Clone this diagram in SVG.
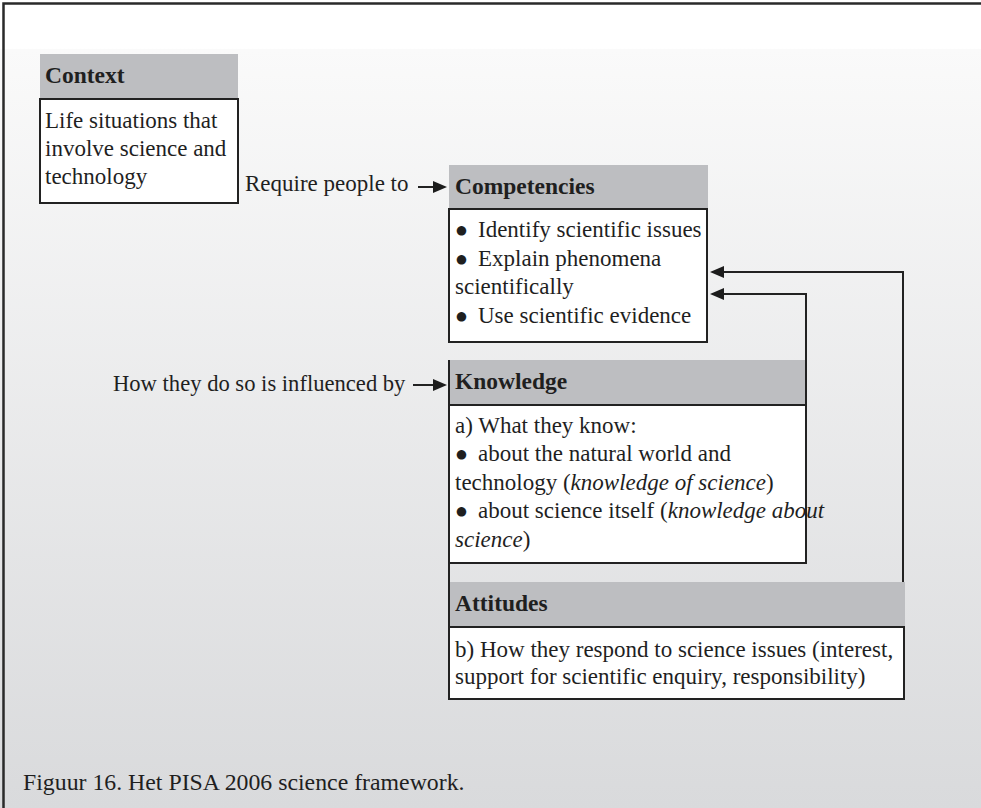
<svg xmlns="http://www.w3.org/2000/svg" width="981" height="808" viewBox="0 0 981 808">
  <style>
    .t { font-family: "Liberation Serif", "Times New Roman", serif; font-size: 23px; fill: #1f1f1f; }
    .b { font-weight: bold; font-size: 23.5px; }
    .i { font-style: italic; }
    .dot { font-family: "DejaVu Sans", sans-serif; font-size: 12.5px; }
    .hdr { fill: #bdbec1; }
    .body { fill: #ffffff; stroke: #222222; stroke-width: 2; }
    .wire { fill: none; stroke: #222222; stroke-width: 2; }
    .frame { fill: none; stroke: #2a2a2a; stroke-width: 2.5; }
  </style>
  <defs>
    <linearGradient id="bg" gradientUnits="userSpaceOnUse" x1="0" y1="0" x2="0" y2="808">
      <stop offset="0" stop-color="#ffffff"/>
      <stop offset="0.06" stop-color="#ffffff"/>
      <stop offset="0.061" stop-color="#fafafa"/>
      <stop offset="1" stop-color="#d9dadc"/>
    </linearGradient>
    <marker id="arrow" viewBox="0 0 14 12" refX="6" refY="6" markerWidth="14" markerHeight="12" markerUnits="userSpaceOnUse" orient="auto">
      <path d="M0,0 L14,6 L0,12 z" fill="#1c1c1c"/>
    </marker>
  </defs>

  <!-- page background and frame -->
  <rect x="0" y="0" width="981" height="808" fill="url(#bg)"/>
  <path class="frame" d="M3.5,808 V3.5 H981"/>

  <!-- Context -->
  <g id="context">
    <rect class="hdr" x="40" y="54" width="198" height="45"/>
    <text class="t b" x="45" y="83">Context</text>
    <rect class="body" x="40" y="99" width="198" height="104"/>
    <text class="t" x="45" y="128">Life situations that</text>
    <text class="t" x="45" y="156">involve science and</text>
    <text class="t" x="45" y="184">technology</text>
  </g>

  <!-- Competencies -->
  <g id="competencies">
    <rect class="hdr" x="449" y="165" width="259" height="44"/>
    <text class="t b" x="455" y="194">Competencies</text>
    <rect class="body" x="449" y="209" width="258" height="133"/>
    <text class="t" y="237"><tspan class="dot" x="456" dy="-3">●</tspan><tspan x="478" dy="3">Identify scientific issues</tspan></text>
    <text class="t" y="266"><tspan class="dot" x="456" dy="-3">●</tspan><tspan x="478" dy="3">Explain phenomena</tspan></text>
    <text class="t" x="455" y="294">scientifically</text>
    <text class="t" y="323"><tspan class="dot" x="456" dy="-3">●</tspan><tspan x="478" dy="3">Use scientific evidence</tspan></text>
  </g>

  <!-- Knowledge -->
  <g id="knowledge">
    <rect class="hdr" x="449" y="360" width="357" height="45"/>
    <text class="t b" x="455" y="389">Knowledge</text>
    <rect class="body" x="449" y="405" width="357" height="158"/>
    <text class="t" x="455" y="433">a) What they know:</text>
    <text class="t" y="461"><tspan class="dot" x="456" dy="-3">●</tspan><tspan x="478" dy="3">about the natural world and</tspan></text>
    <text class="t" x="455" y="490">technology (<tspan class="i">knowledge of science</tspan>)</text>
    <text class="t" y="518"><tspan class="dot" x="456" dy="-3">●</tspan><tspan x="478" dy="3">about science itself (<tspan class="i">knowledge about</tspan></tspan></text>
    <text class="t" x="455" y="547"><tspan class="i">science</tspan>)</text>
  </g>

  <!-- Attitudes -->
  <g id="attitudes">
    <rect class="hdr" x="449" y="582" width="456" height="45"/>
    <text class="t b" x="455" y="611">Attitudes</text>
    <rect class="body" x="449" y="627" width="455" height="72"/>
    <text class="t" x="455" y="657">b) How they respond to science issues (interest,</text>
    <text class="t" x="455" y="684">support for scientific enquiry, responsibility)</text>
  </g>

  <!-- connectors and labels -->
  <g id="connectors">
    <path class="wire" d="M449,360 V699"/>
    <path class="wire" d="M903,582 V272 H718" marker-end="url(#arrow)"/>
    <path class="wire" d="M806,405 V294 H718" marker-end="url(#arrow)"/>
    <path class="wire" d="M418,187 H439" marker-end="url(#arrow)"/>
    <path class="wire" d="M413,385 H439" marker-end="url(#arrow)"/>
    <text class="t" x="245" y="191">Require people to</text>
    <text class="t" x="113" y="391" style="font-size:22.6px">How they do so is influenced by</text>
  </g>

  <text class="t" x="23" y="790" style="font-size:23.8px">Figuur 16. Het PISA 2006 science framework.</text>
</svg>
